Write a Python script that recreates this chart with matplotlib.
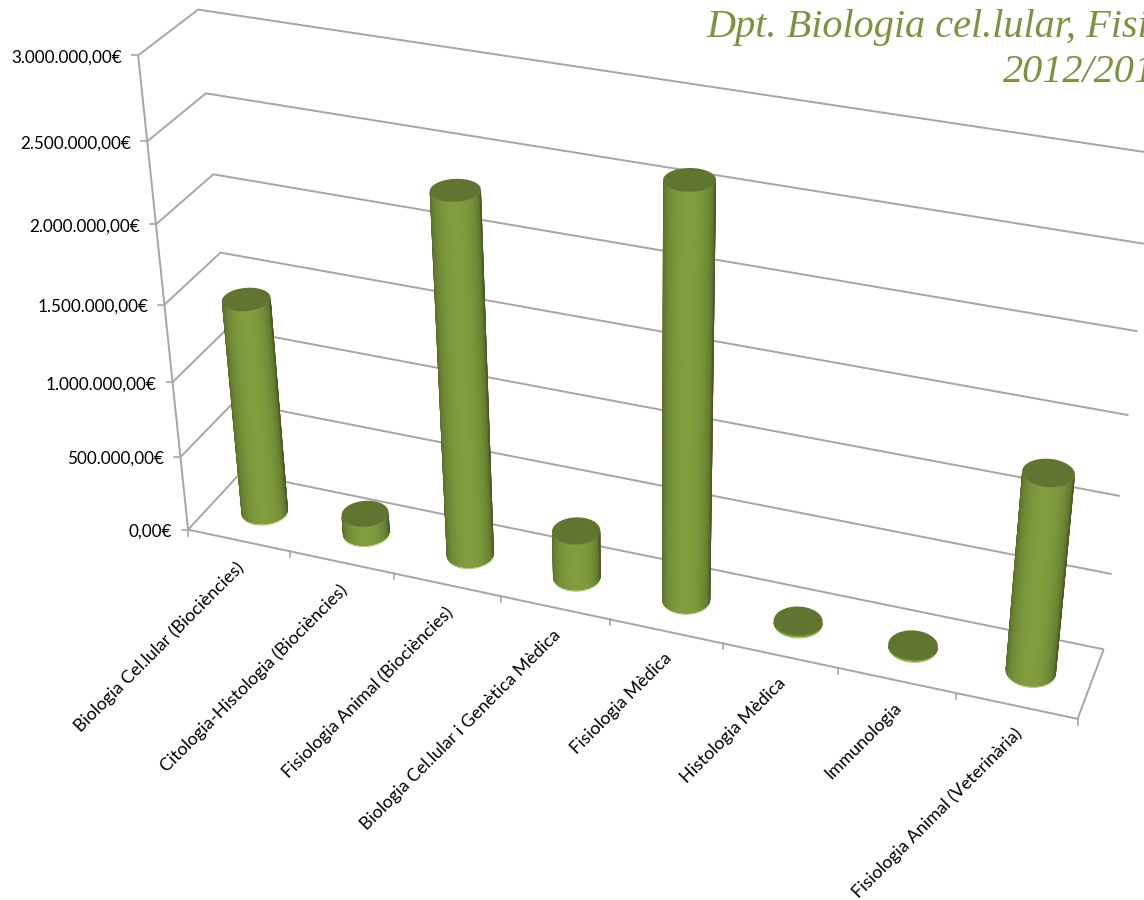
import numpy as np
import matplotlib
matplotlib.use('Agg')
import matplotlib.pyplot as plt
from matplotlib.collections import PolyCollection
from matplotlib.patches import Polygon

categories = ['Biologia Cel.lular (Biociències)', 'Citologia-Histologia (Biociències)',
              'Fisiologia Animal (Biociències)', 'Biologia Cel.lular i Genètica Mèdica',
              'Fisiologia Mèdica', 'Histologia Mèdica', 'Immunologia',
              'Fisiologia Animal (Veterinària)']
values = [1425000, 130000, 2335000, 310000, 2620000, 10000, 8000, 1270000]
y_ticks = [0, 500000, 1000000, 1500000, 2000000, 2500000, 3000000]
y_labels = ['0,00€', '500.000,00€', '1.000.000,00€', '1.500.000,00€',
            '2.000.000,00€', '2.500.000,00€', '3.000.000,00€']
title_lines = ['Dpt. Biologia cel.lular, Fisiologia i Immunologia', '2012/2013']

GRID = '#a6a6a6'
TITLE = '#7a943e'
TEXT = '#000000'

# camera setup: (category, euros, depth) -> pixel, fitted on the chart box
box = [(0, 0, 0, 188, 530), (0, 3e6, 0, 139, 55), (0, 2.5e6, 0, 147, 141), (0, 2e6, 0, 156, 224),
       (0, 0, 1, 242, 472), (0, 3e6, 1, 198, 10), (0, 2.5e6, 1, 206, 94), (0, 2e6, 1, 213, 174),
       (0, 1.5e6, 1, 219, 253), (2, 0, 0, 394, 574), (6, 0, 0, 838, 668), (8, 0, 0, 1077, 719),
       (8, 0, 1, 1104, 650), (8, 1e6, 1, 1120, 495), (8, 2e6, 1, 1137, 330), (8, 3e6, 1, 1157, 155)]


def fit_camera(pts):
    rows = []
    for x, v, z, u, w in pts:
        p = [x, v / 1e6, z, 1]
        rows.append(p + [0, 0, 0, 0] + [-u * c for c in p])
        rows.append([0, 0, 0, 0] + p + [-w * c for c in p])
    return np.linalg.svd(np.array(rows, dtype=float))[2][-1].reshape(3, 4)


cam = fit_camera(box)


def proj(x, v, z):
    x, v, z = np.broadcast_arrays(np.asarray(x, float), np.asarray(v, float) / 1e6, np.asarray(z, float))
    h = cam @ np.stack([x.ravel(), v.ravel(), z.ravel(), np.ones(x.size)])
    return np.column_stack([h[0] / h[2], h[1] / h[2]])


fig = plt.figure(figsize=(11.44, 9), dpi=100)
ax = fig.add_axes([0, 0, 1, 1])
ax.set_xlim(0, 1144)
ax.set_ylim(900, 0)
ax.axis('off')


def line(x, v, z, **kw):
    p = proj(x, v, z)
    ax.plot(p[:, 0], p[:, 1], color=GRID, lw=1.4, solid_capstyle='butt', **kw)


# walls and floor
for t in y_ticks:
    line([0, 0, 8], [t, t, t], [0, 1, 1], zorder=1)
    p = proj(0, t, 0)[0]
    ax.plot([p[0] - 6, p[0]], [p[1], p[1]], color=GRID, lw=1.2, zorder=1)
line([0, 0], [0, 3e6], [0, 0], zorder=1)
line([0, 8, 8], [0, 0, 0], [0, 0, 1], zorder=1)
for i in range(len(categories) + 1):
    p = proj(i, 0, 0)[0]
    ax.plot([p[0], p[0]], [p[1], p[1] + 6], color=GRID, lw=1.2, zorder=1)

# cylinders
rx, rz = 0.205, 0.21
th = np.linspace(0, 2 * np.pi, 181)
side_dark = np.array([66, 86, 30]) / 255
side_light = np.array([128, 158, 62]) / 255


def front_arc(cx, cz, val, n, side):
    # visible part of a ring, from one silhouette point to the other
    a = np.linspace(np.pi / 2, 5 * np.pi / 2, 721)
    ring = proj(cx + rx * np.cos(a), val, cz + rz * np.sin(a))
    score = ring @ side
    left = a[a <= 3 * np.pi / 2][np.argmin(score[a <= 3 * np.pi / 2])]
    right = a[a >= 3 * np.pi / 2][np.argmax(score[a >= 3 * np.pi / 2])]
    a = np.linspace(left, right, n)
    return proj(cx + rx * np.cos(a), val, cz + rz * np.sin(a))


for i, val in enumerate(values):
    cx, cz = i + 0.5, 0.5
    ex, ez = cx + rx * np.cos(th), cz + rz * np.sin(th)
    base = proj(ex, 0, ez)
    top = proj(ex, val, ez)
    # pale rim under the base
    ax.fill(base[:, 0], base[:, 1] + 1.6, color='#b9cc7c', lw=0, zorder=2)

    axis_dir = proj(cx, 3e6, cz)[0] - proj(cx, 0, cz)[0]
    side = np.array([-axis_dir[1], axis_dir[0]])
    side = side / np.hypot(*side) * np.sign(-axis_dir[1])
    n = 41
    low = front_arc(cx, cz, 0, n, side)
    high = front_arc(cx, cz, val, n, side)
    outline = Polygon(np.vstack([low, high[::-1]]), closed=True, fc=side_dark, ec='none', zorder=3)
    ax.add_patch(outline)
    quads, cols = [], []
    for k in range(n - 1):
        quads.append([low[k], low[k + 1], high[k + 1], high[k]])
        s = np.sin(np.pi * (k + 0.5) / (n - 1)) ** 0.8
        cols.append(side_dark + (side_light - side_dark) * s)
    strips = PolyCollection(quads, facecolors=cols, edgecolors=cols, linewidths=1.2, zorder=3.1)
    ax.add_collection(strips)
    strips.set_clip_path(outline)
    ax.fill(top[:, 0], top[:, 1], color='#5f7530', lw=0, zorder=4)

# axis text
for t, lab in zip(y_ticks, y_labels):
    p = proj(0, t, 0)[0]
    ax.text(p[0] - 16, p[1] + 2, lab, ha='right', va='center', fontsize=12.3, family='Lato', color=TEXT)
for i, lab in enumerate(categories):
    p = proj(i + 0.5, 0, 0)[0]
    ax.text(p[0] - 3, p[1] + 19, lab, ha='right', va='top', rotation=45, rotation_mode='anchor',
            fontsize=12.8, family='Lato', color=TEXT)

ax.text(1102, 28, title_lines[0], ha='center', va='center', fontsize=29, family='Liberation Serif',
        style='italic', color=TITLE)
ax.text(1089, 72, title_lines[1], ha='center', va='center', fontsize=29, family='Liberation Serif',
        style='italic', color=TITLE)

fig.savefig('out.png', dpi=100)
